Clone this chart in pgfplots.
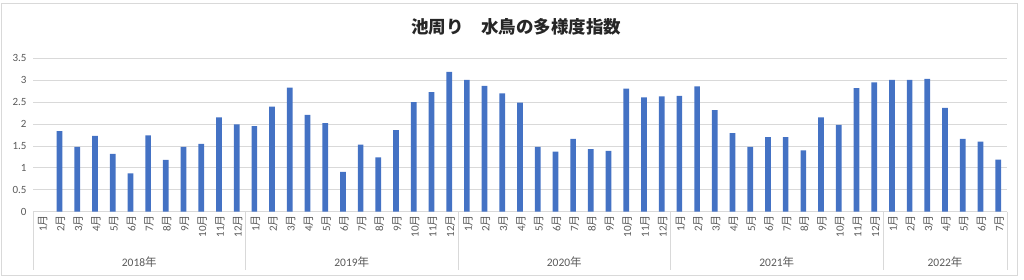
\documentclass[border=0pt]{standalone}
\usepackage{pgfplots}
\pgfplotsset{compat=1.18}
\usepackage{fontspec}
\setmainfont{Carlito}
\newfontfamily\cjk{Noto Sans CJK JP}
\definecolor{barblue}{HTML}{4472C4}
\definecolor{gridgray}{HTML}{D9D9D9}
\definecolor{txtgray}{HTML}{595959}
\newcommand\m[1]{#1{\cjk 月}}
\pgfplotstableread{
x y
1 1.84
2 1.48
3 1.73
4 1.32
5 0.875
6 1.74
7 1.18
8 1.48
9 1.55
10 2.15
11 1.99
12 1.95
13 2.40
14 2.83
15 2.21
16 2.02
17 0.906
18 1.53
19 1.24
20 1.86
21 2.50
22 2.73
23 3.19
24 3.01
25 2.87
26 2.70
27 2.49
28 1.48
29 1.37
30 1.66
31 1.43
32 1.39
33 2.81
34 2.61
35 2.63
36 2.64
37 2.86
38 2.32
39 1.79
40 1.48
41 1.70
42 1.70
43 1.40
44 2.15
45 1.98
46 2.82
47 2.95
48 3.01
49 3.01
50 3.03
51 2.37
52 1.66
53 1.60
54 1.19
}\datatable
\begin{document}
\begin{tikzpicture}[x=1pt,y=1pt]
\useasboundingbox (0,0) rectangle (1024,279);
\draw[gridgray, line width=0.8pt] (1,4) rectangle (1017,276);
\node[font=\cjk\bfseries\fontsize{17.5}{20}\selectfont, text=black!85] at (516,252) {池周り　水鳥の多様度指数};
\begin{axis}[
  at={(33pt,67.3pt)}, anchor=south west,
  scale only axis, width=974pt, height=153.4pt,
  xmin=-0.5, xmax=54.5, ymin=0, ymax=3.5,
  ytick={0,0.5,...,3.5},
  xtick={0,...,54},
  xticklabels={\m1,\m2,\m3,\m4,\m5,\m6,\m7,\m8,\m9,\m{10},\m{11},\m{12},
               \m1,\m2,\m3,\m4,\m5,\m6,\m7,\m8,\m9,\m{10},\m{11},\m{12},
               \m1,\m2,\m3,\m4,\m5,\m6,\m7,\m8,\m9,\m{10},\m{11},\m{12},
               \m1,\m2,\m3,\m4,\m5,\m6,\m7,\m8,\m9,\m{10},\m{11},\m{12},
               \m1,\m2,\m3,\m4,\m5,\m6,\m7},
  x tick label style={rotate=90, anchor=east, font=\fontsize{11}{12}\selectfont, text=txtgray, xshift=0pt, yshift=-1pt},
  y tick label style={font=\fontsize{11}{12}\selectfont, text=txtgray, xshift=-3pt},
  /pgf/number format/assume math mode=true,
  ymajorgrids, grid style={gridgray, line width=0.8pt},
  axis lines*=left,
  y axis line style={draw=none},
  x axis line style={gridgray, line width=0.8pt},
  major tick length=0pt,
  clip=false,
  ybar, bar width=5.7pt, bar shift=0pt,
]
\addplot[fill=barblue, draw=none] table[x=x, y=y] {\datatable};
\pgfplotsinvokeforeach{-0.5,11.5,23.5,35.5,47.5,54.5}{
  \draw[gridgray, line width=0.8pt] (axis cs:#1,0) -- ([yshift=-58.5pt]axis cs:#1,0);
}
\node[font=\fontsize{11.5}{12}\selectfont, text=txtgray] at (axis cs:5.5,0) [yshift=-50pt] {2018{\cjk 年}};
\node[font=\fontsize{11.5}{12}\selectfont, text=txtgray] at (axis cs:17.5,0) [yshift=-50pt] {2019{\cjk 年}};
\node[font=\fontsize{11.5}{12}\selectfont, text=txtgray] at (axis cs:29.5,0) [yshift=-50pt] {2020{\cjk 年}};
\node[font=\fontsize{11.5}{12}\selectfont, text=txtgray] at (axis cs:41.5,0) [yshift=-50pt] {2021{\cjk 年}};
\node[font=\fontsize{11.5}{12}\selectfont, text=txtgray] at (axis cs:51,0) [yshift=-50pt] {2022{\cjk 年}};
\end{axis}
\end{tikzpicture}
\end{document}
